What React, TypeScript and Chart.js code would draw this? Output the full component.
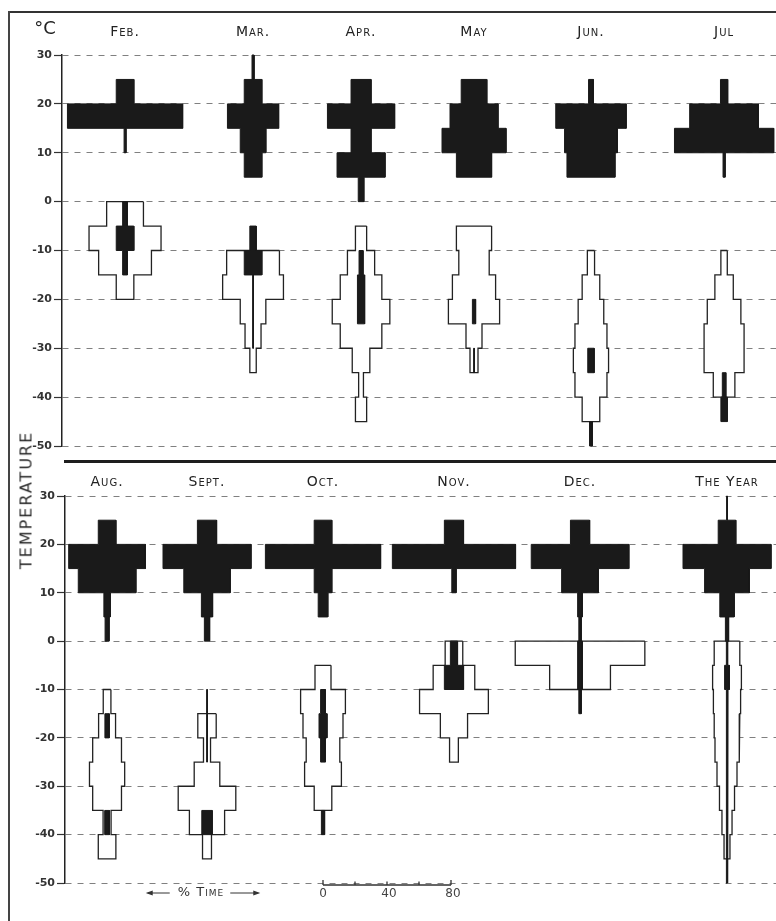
import React, { useEffect, useRef } from 'react';
import { Chart, registerables } from 'chart.js';

Chart.register(...registerables);

// Each bin: [upper edge of a 5 °C class, % of time]
type Bin = [number, number];

const TOP_MONTHS = ['Feb.', 'Mar.', 'Apr.', 'May', 'Jun.', 'Jul'];
const BOTTOM_MONTHS = ['Aug.', 'Sept.', 'Oct.', 'Nov.', 'Dec.', 'The Year'];

const Y_MIN = -50;
const Y_MAX = 30;
const Y_STEP = 10;
const BIN_SIZE = 5;

const TIME_SCALE_TICKS = [0, 20, 40, 60, 80];
const TIME_SCALE_LABELS = [0, 40, 80];

// ---- top row ----
const FEB_SOLID: Bin[] = [[25, 11], [20, 72], [15, 1.2]];
const FEB_OPEN: Bin[] = [[0, 23], [-5, 45], [-10, 33], [-15, 11]];
const FEB_CORE: Bin[] = [[0, 3], [-5, 11], [-10, 3]];

const MAR_SOLID: Bin[] = [[30, 1.3], [25, 11], [20, 32], [15, 16], [10, 11]];
const MAR_OPEN: Bin[] = [[-10, 33], [-15, 38], [-20, 16], [-25, 10], [-30, 4]];
const MAR_CORE: Bin[] = [[-5, 4], [-10, 11], [-15, 0.5], [-20, 0.5], [-25, 0.5]];

const APR_SOLID: Bin[] = [[25, 12.5], [20, 42], [15, 12.5], [10, 30], [5, 3.5]];
const APR_OPEN: Bin[] = [[-5, 7], [-10, 17], [-15, 26], [-20, 36], [-25, 26], [-30, 11], [-35, 3], [-40, 7]];
const APR_CORE: Bin[] = [[-10, 2.5], [-15, 4.5], [-20, 4.5]];

const MAY_SOLID: Bin[] = [[25, 16], [20, 30], [15, 40], [10, 22]];
const MAY_OPEN: Bin[] = [[-5, 22], [-10, 19], [-15, 27], [-20, 32], [-25, 10], [-30, 5]];
const MAY_CORE: Bin[] = [[-20, 2], [-30, 0.4]];

const JUN_SOLID: Bin[] = [[25, 3], [20, 44], [15, 33], [10, 30]];
const JUN_OPEN: Bin[] = [[-10, 4.5], [-15, 11], [-20, 16], [-25, 20], [-30, 22], [-35, 20], [-40, 11]];
const JUN_CORE: Bin[] = [[-30, 4], [-45, 1.8]];

const JUL_SOLID: Bin[] = [[25, 4.5], [20, 43], [15, 62], [10, 1.3]];
const JUL_OPEN: Bin[] = [[-10, 4], [-15, 11.5], [-20, 21], [-25, 25], [-30, 25], [-35, 13.5]];
const JUL_CORE: Bin[] = [[-35, 2.2], [-40, 4]];

// ---- bottom row ----
const AUG_SOLID: Bin[] = [[25, 11], [20, 48], [15, 36], [10, 4], [5, 2.5]];
const AUG_OPEN: Bin[] = [[-10, 4.8], [-15, 10.6], [-20, 18], [-25, 22], [-30, 18], [-35, 5], [-40, 11]];
const AUG_CORE: Bin[] = [[-15, 2.7], [-35, 3]];

const SEP_SOLID: Bin[] = [[25, 12], [20, 55], [15, 29], [10, 7], [5, 3.3]];
const SEP_OPEN: Bin[] = [[-15, 11.5], [-20, 4.4], [-25, 16], [-30, 36], [-35, 22], [-40, 5.6]];
const SEP_CORE: Bin[] = [[-10, 0.4], [-15, 0.4], [-20, 0.4], [-35, 6.5]];

const OCT_SOLID: Bin[] = [[25, 11], [20, 72], [15, 11], [10, 6]];
const OCT_OPEN: Bin[] = [[-5, 10], [-10, 28], [-15, 25], [-20, 21], [-25, 23], [-30, 11]];
const OCT_CORE: Bin[] = [[-10, 3], [-15, 5], [-20, 3], [-35, 2]];

const NOV_SOLID: Bin[] = [[25, 12], [20, 77], [15, 2.7]];
const NOV_OPEN: Bin[] = [[0, 11], [-5, 26], [-10, 43], [-15, 17], [-20, 5.5]];
const NOV_CORE: Bin[] = [[0, 4.5], [-5, 12]];

const DEC_SOLID: Bin[] = [[25, 12], [20, 61], [15, 23], [10, 3], [5, 1.5]];
const DEC_OPEN: Bin[] = [[0, 81], [-5, 38]];
const DEC_CORE: Bin[] = [[0, 3], [-5, 3], [-10, 1.5]];

const YEAR_SOLID: Bin[] = [[30, 0.5], [25, 11], [20, 55], [15, 28], [10, 9], [5, 2]];
const YEAR_OPEN: Bin[] = [[0, 16], [-5, 18], [-10, 17], [-15, 16], [-20, 15], [-25, 12.5], [-30, 9.4], [-35, 6.3], [-40, 3.7]];
const YEAR_CORE: Bin[] = [[0, 0.8], [-5, 3], [-10, 1.2], [-15, 0.6], [-20, 0.6], [-25, 0.6], [-30, 0.6], [-35, 0.6], [-40, 0.8], [-45, 1.2]];

const TOP_SOLID = [FEB_SOLID, MAR_SOLID, APR_SOLID, MAY_SOLID, JUN_SOLID, JUL_SOLID];
const TOP_OPEN = [FEB_OPEN, MAR_OPEN, APR_OPEN, MAY_OPEN, JUN_OPEN, JUL_OPEN];
const TOP_CORE = [FEB_CORE, MAR_CORE, APR_CORE, MAY_CORE, JUN_CORE, JUL_CORE];
const BOTTOM_SOLID = [AUG_SOLID, SEP_SOLID, OCT_SOLID, NOV_SOLID, DEC_SOLID, YEAR_SOLID];
const BOTTOM_OPEN = [AUG_OPEN, SEP_OPEN, OCT_OPEN, NOV_OPEN, DEC_OPEN, YEAR_OPEN];
const BOTTOM_CORE = [AUG_CORE, SEP_CORE, OCT_CORE, NOV_CORE, DEC_CORE, YEAR_CORE];

// ---- layout (positions of each diagram's axis, in % time units from the y axis) ----
const PX_PER_PCT = 1.6;
const TOP_CENTERS = [39.4, 119.4, 186.9, 257.5, 330.6, 413.8];
const BOTTOM_CENTERS = [26.3, 88.75, 161.25, 243.1, 321.9, 413.75];
const SCALE_MONTH_INDEX = 2; // the %-time ruler sits under October

const W = 776;
const TOP_H = 463;
const BOTTOM_H = 921 - TOP_H;
const FONT = '"DejaVu Sans", sans-serif';
const INK = '#1a1a1a';

function kitePolygons(center: number, bins: Bin[]) {
  const sorted = [...bins].sort((a, b) => b[0] - a[0]);
  const runs: Bin[][] = [];
  for (const b of sorted) {
    const last = runs[runs.length - 1];
    if (last && Math.abs(last[last.length - 1][0] - BIN_SIZE - b[0]) < 1e-6) last.push(b);
    else runs.push([b]);
  }
  return runs.map((run) => {
    const pts: { x: number; y: number }[] = [];
    for (const [top, w] of run) {
      pts.push({ x: center + w / 2, y: top });
      pts.push({ x: center + w / 2, y: top - BIN_SIZE });
    }
    for (let i = run.length - 1; i >= 0; i--) {
      const [top, w] = run[i];
      pts.push({ x: center - w / 2, y: top - BIN_SIZE });
      pts.push({ x: center - w / 2, y: top });
    }
    pts.push({ ...pts[0] });
    return pts;
  });
}

function buildDatasets(centers: number[], solid: Bin[][], open: Bin[][], core: Bin[][]) {
  const common = {
    pointRadius: 0,
    pointHoverRadius: 0,
    tension: 0,
    clip: false as any,
    fill: 'shape' as any,
    borderJoinStyle: 'miter' as const,
  };
  const ds: any[] = [];
  centers.forEach((c, m) => {
    kitePolygons(c, open[m]).forEach((p) =>
      ds.push({ ...common, data: p, backgroundColor: '#ffffff', borderColor: '#222', borderWidth: 1.3, order: 2 })
    );
    kitePolygons(c, solid[m]).forEach((p) =>
      ds.push({ ...common, data: p, backgroundColor: INK, borderColor: INK, borderWidth: 1, order: 1 })
    );
    kitePolygons(c, core[m]).forEach((p) =>
      ds.push({ ...common, data: p, backgroundColor: INK, borderColor: INK, borderWidth: 1, order: 0 })
    );
  });
  return ds;
}

function setSmallCaps(ctx: CanvasRenderingContext2D, size: number, spacing: number) {
  ctx.font = `small-caps ${size}px ${FONT}`;
  (ctx as any).fontVariantCaps = 'small-caps';
  (ctx as any).letterSpacing = `${spacing}px`;
}

function makeConfig(opts: {
  centers: number[];
  months: string[];
  solid: Bin[][];
  open: Bin[][];
  core: Bin[][];
  axisLeft: number;
  padTop: number;
  padBottom: number;
  labelY: number;
  isTop: boolean;
}) {
  const xMax = (W - opts.axisLeft) / PX_PER_PCT;
  const labelPlugin = {
    id: 'panelLabels',
    afterDraw(chart: any) {
      const ctx: CanvasRenderingContext2D = chart.ctx;
      const xs = chart.scales.x;
      const area = chart.chartArea;
      ctx.save();
      ctx.fillStyle = '#222';
      ctx.textAlign = 'center';
      ctx.textBaseline = 'middle';
      setSmallCaps(ctx, 14, 1);
      opts.months.forEach((m, i) => {
        ctx.fillText(m, xs.getPixelForValue(opts.centers[i]), opts.labelY);
      });
      (ctx as any).letterSpacing = '0px';
      (ctx as any).fontVariantCaps = 'normal';
      if (opts.isTop) {
        ctx.font = `18px ${FONT}`;
        ctx.fillStyle = '#222';
        ctx.fillText('°C', 45, 29);
      } else {
        // % time ruler
        const c = opts.centers[SCALE_MONTH_INDEX];
        const yb = area.bottom + 2;
        ctx.strokeStyle = '#333';
        ctx.lineWidth = 1.3;
        ctx.beginPath();
        ctx.moveTo(xs.getPixelForValue(c + TIME_SCALE_TICKS[0]), yb);
        ctx.lineTo(xs.getPixelForValue(c + TIME_SCALE_TICKS[TIME_SCALE_TICKS.length - 1]), yb);
        TIME_SCALE_TICKS.forEach((t, i) => {
          const x = xs.getPixelForValue(c + t);
          const end = i === 0 || i === TIME_SCALE_TICKS.length - 1;
          ctx.moveTo(x, yb);
          ctx.lineTo(x, yb - (end ? 5 : 3.5));
        });
        ctx.stroke();
        ctx.font = `12px ${FONT}`;
        ctx.fillStyle = '#444';
        TIME_SCALE_LABELS.forEach((t) => {
          ctx.fillText(String(t), xs.getPixelForValue(c + t) + (t === 0 ? 0 : 2), yb + 9);
        });
        // % TIME caption with arrows
        const cx = 201;
        const cy = yb + 8;
        setSmallCaps(ctx, 13, 1);
        ctx.fillStyle = '#333';
        const txt = '% Time';
        ctx.fillText(txt, cx, cy);
        const tw = ctx.measureText(txt).width;
        ctx.strokeStyle = '#333';
        ctx.lineWidth = 1;
        const l1 = cx - tw / 2 - 8;
        const l0 = l1 - 22;
        const r0 = cx + tw / 2 + 6;
        const r1 = r0 + 28;
        ctx.beginPath();
        ctx.moveTo(l1, cy);
        ctx.lineTo(l0, cy);
        ctx.moveTo(r0, cy);
        ctx.lineTo(r1, cy);
        ctx.stroke();
        ctx.fillStyle = '#333';
        ctx.beginPath();
        ctx.moveTo(l0 - 2, cy);
        ctx.lineTo(l0 + 5, cy - 2.5);
        ctx.lineTo(l0 + 5, cy + 2.5);
        ctx.closePath();
        ctx.moveTo(r1 + 2, cy);
        ctx.lineTo(r1 - 5, cy - 2.5);
        ctx.lineTo(r1 - 5, cy + 2.5);
        ctx.closePath();
        ctx.fill();
      }
      ctx.restore();
    },
  };

  return {
    type: 'line' as const,
    data: { datasets: buildDatasets(opts.centers, opts.solid, opts.open, opts.core) },
    options: {
      animation: false as const,
      responsive: false,
      events: [] as any[],
      layout: { padding: { left: 0, top: opts.padTop, right: 0, bottom: opts.padBottom } },
      plugins: { legend: { display: false }, tooltip: { enabled: false } },
      scales: {
        x: { type: 'linear' as const, min: 0, max: xMax, display: false },
        y: {
          type: 'linear' as const,
          min: Y_MIN,
          max: Y_MAX,
          afterFit: (s: any) => {
            s.width = opts.axisLeft;
          },
          ticks: {
            stepSize: Y_STEP,
            color: '#333',
            padding: 2,
            font: { family: FONT, size: 11, weight: 'bold' as const },
          },
          grid: {
            color: '#808080',
            lineWidth: 1,
            tickLength: 8,
            tickColor: '#333',
            tickWidth: 1.2,
          },
          border: { display: true, color: '#222', width: 1.5, dash: [6, 6] },
        },
      },
    },
    plugins: [labelPlugin],
  };
}

function Panel(props: { top: number; height: number; config: any }) {
  const ref = useRef<HTMLCanvasElement | null>(null);
  useEffect(() => {
    if (!ref.current) return;
    const chart = new Chart(ref.current, props.config);
    return () => chart.destroy();
  }, []);
  return (
    <canvas
      ref={ref}
      width={W}
      height={props.height}
      style={{ position: 'absolute', left: 0, top: props.top, width: W, height: props.height, display: 'block' }}
    />
  );
}

export default function App() {
  const topConfig = makeConfig({
    centers: TOP_CENTERS,
    months: TOP_MONTHS,
    solid: TOP_SOLID,
    open: TOP_OPEN,
    core: TOP_CORE,
    axisLeft: 62,
    padTop: 55,
    padBottom: 17,
    labelY: 32,
    isTop: true,
  });
  const bottomConfig = makeConfig({
    centers: BOTTOM_CENTERS,
    months: BOTTOM_MONTHS,
    solid: BOTTOM_SOLID,
    open: BOTTOM_OPEN,
    core: BOTTOM_CORE,
    axisLeft: 65,
    padTop: 33,
    padBottom: 38,
    labelY: 19,
    isTop: false,
  });
  return (
    <div
      style={{
        position: 'absolute',
        left: 0,
        top: 0,
        width: W,
        height: 921,
        background: '#fff',
        overflow: 'hidden',
      }}
    >
      <Panel top={0} height={TOP_H} config={topConfig} />
      <Panel top={TOP_H} height={BOTTOM_H} config={bottomConfig} />
      {/* frame */}
      <div style={{ position: 'absolute', left: 8, top: 11, width: W - 8, height: 2, background: '#333' }} />
      <div style={{ position: 'absolute', left: 8, top: 11, width: 2, height: 921 - 11, background: '#444' }} />
      <div style={{ position: 'absolute', left: 64, top: 460, width: W - 64, height: 3, background: '#1e1e1e' }} />
      <div
        style={{
          position: 'absolute',
          left: 26,
          top: 500,
          transform: 'translate(-50%, -50%) rotate(-90deg)',
          fontFamily: FONT,
          fontSize: 16,
          letterSpacing: 2,
          color: '#2a2a2a',
          whiteSpace: 'nowrap',
        }}
      >
        TEMPERATURE
      </div>
    </div>
  );
}
